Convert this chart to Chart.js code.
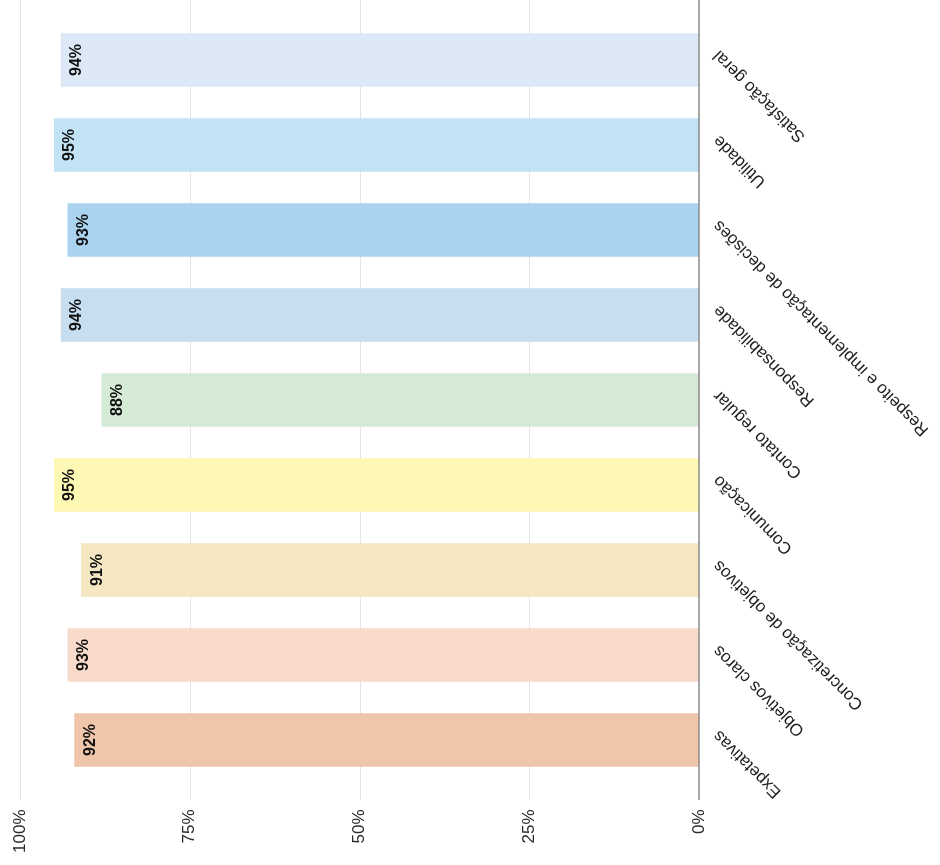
<!DOCTYPE html>
<html>
<head>
<meta charset="utf-8">
<script src="https://cdn.jsdelivr.net/npm/chart.js@4.4.1/dist/chart.umd.min.js"></script>
<style>
  html, body { margin: 0; padding: 0; background: #fff; width: 940px; height: 865px; overflow: hidden; }
  /* the chart is laid out as a column chart and turned a quarter turn anticlockwise */
  #wrap {
    position: absolute; left: 0; top: 0; width: 865px; height: 940px;
    transform-origin: 0 0;
    transform: translate(0, 865px) rotate(-90deg);
  }
  canvas { display: block; }
</style>
</head>
<body>
<div id="wrap"><canvas id="c" width="865" height="940"></canvas></div>
<script>
const categories = [
  'Expetativas',
  'Objetivos claros',
  'Concretização de objetivos',
  'Comunicação',
  'Contato regular',
  'Responsabilidade',
  'Respeito e implementação de decisões',
  'Utilidade',
  'Satisfação geral'
];
const values = [92, 93, 91, 95, 88, 94, 93, 95, 94];
const barColors = [
  '#f0c6aa', '#f8dbca', '#f5e7c2', '#fdf8b3', '#d6ebd6',
  '#c7ddf0', '#a9d3ef', '#c2e2f5', '#dce8f6'
];
const valueTicks = [0, 25, 50, 75, 100];

const FONT = '"Liberation Sans", Arial, sans-serif';
const GRID_EXTEND = 17.5;

const gridAndLabels = {
  id: 'gridAndLabels',
  beforeDatasetsDraw(chart) {
    const { ctx, chartArea, scales: { y } } = chart;
    ctx.save();
    ctx.strokeStyle = '#e4e4e4';
    ctx.lineWidth = 1;
    valueTicks.forEach(v => {
      if (v === 0) return;
      const py = Math.round(y.getPixelForValue(v)) + 0.5;
      ctx.beginPath();
      ctx.moveTo(chartArea.left - GRID_EXTEND, py);
      ctx.lineTo(chartArea.right + GRID_EXTEND, py);
      ctx.stroke();
    });
    ctx.restore();
  },
  afterDatasetsDraw(chart) {
    const { ctx, chartArea, scales: { y } } = chart;
    ctx.save();
    // baseline at 0%
    const py = y.getPixelForValue(0);
    ctx.strokeStyle = '#8a8a8a';
    ctx.lineWidth = 1.5;
    ctx.beginPath();
    ctx.moveTo(chartArea.left - GRID_EXTEND, py);
    ctx.lineTo(chartArea.right + GRID_EXTEND, py);
    ctx.stroke();
    // value labels just inside the top of each bar
    ctx.fillStyle = '#111';
    ctx.font = 'bold 16px ' + FONT;
    ctx.textAlign = 'center';
    ctx.textBaseline = 'middle';
    chart.getDatasetMeta(0).data.forEach((bar, i) => {
      ctx.fillText(values[i] + '%', bar.x, bar.y + 16);
    });
    ctx.restore();
  }
};

new Chart(document.getElementById('c'), {
  type: 'bar',
  data: {
    labels: categories,
    datasets: [{
      data: values,
      backgroundColor: barColors,
      borderWidth: 0,
      categoryPercentage: 1,
      barPercentage: 0.63
    }]
  },
  options: {
    responsive: false,
    animation: false,
    devicePixelRatio: 1,
    layout: { padding: { top: 20, right: 17.5, left: 0, bottom: 0 } },
    plugins: { legend: { display: false }, tooltip: { enabled: false } },
    scales: {
      x: {
        grid: { display: false, drawTicks: false },
        border: { display: false },
        ticks: {
          color: '#1e1e1e',
          font: { family: FONT, size: 17 },
          minRotation: 45,
          maxRotation: 45,
          padding: 10,
          labelOffset: 7,
          autoSkip: false
        },
        afterFit(scale) { scale.height = 241; }
      },
      y: {
        min: 0,
        max: 100,
        grid: { display: false, drawTicks: false },
        border: { display: false },
        ticks: {
          stepSize: 25,
          color: '#2a2a2a',
          font: { family: FONT, size: 17 },
          padding: 27,
          callback: v => v + '%'
        },
        afterFit(scale) {
          scale.width = 82.5;
          scale.paddingTop = 0;
          scale.paddingBottom = 0;
        }
      }
    }
  },
  plugins: [gridAndLabels]
});
</script>
</body>
</html>
